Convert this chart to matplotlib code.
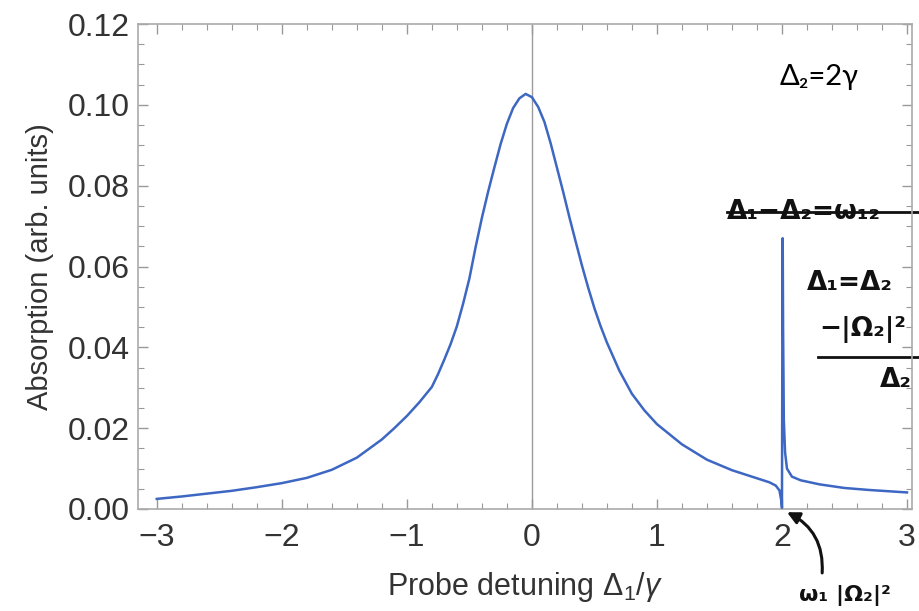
import numpy as np
import matplotlib; matplotlib.use('Agg')
import matplotlib.pyplot as plt
from matplotlib.ticker import MultipleLocator, FormatStrFormatter

plt.rcParams['font.family'] = ['Liberation Sans', 'DejaVu Sans']
plt.rcParams['mathtext.fontset'] = 'custom'
plt.rcParams['mathtext.rm'] = 'Liberation Sans'
plt.rcParams['mathtext.it'] = 'Liberation Sans:italic'

# probe detuning (units of gamma) and absorption
detuning = [-3.0, -2.8, -2.6, -2.4, -2.2, -2.0, -1.8, -1.6, -1.4, -1.2, -1.1, -1.0,
            -0.9, -0.8, -0.75, -0.7, -0.65, -0.6, -0.55, -0.5, -0.45, -0.4, -0.35,
            -0.3, -0.25, -0.2, -0.15, -0.1, -0.05, 0.0, 0.05, 0.1, 0.15, 0.2, 0.25,
            0.3, 0.35, 0.4, 0.45, 0.5, 0.55, 0.6, 0.7, 0.8, 0.9, 1.0, 1.2,
            1.4, 1.6, 1.8, 1.9, 1.95, 1.98, 1.995, 2.0, 2.003, 2.006, 2.009, 2.015,
            2.025, 2.04, 2.08, 2.15, 2.3, 2.5, 2.7, 2.9, 3.0]
absorption = [0.0025, 0.0031, 0.0038, 0.0045, 0.0054, 0.0064, 0.0077, 0.0097, 0.0127,
              0.0172, 0.0200, 0.0230, 0.0264, 0.0302, 0.0334, 0.0370, 0.0408, 0.0452,
              0.0508, 0.0570, 0.0648, 0.0720, 0.0785, 0.0845, 0.0903, 0.0953, 0.0992,
              0.1016, 0.1027, 0.1019, 0.0995, 0.0958, 0.0905, 0.0845, 0.0785, 0.0722,
              0.0662, 0.0603, 0.0548, 0.0497, 0.0452, 0.0412, 0.0342, 0.0285, 0.0244,
              0.0210, 0.0160, 0.0122, 0.0096, 0.0076, 0.0066, 0.0058, 0.0046, 0.0020,
              0.0003, 0.0400, 0.0670, 0.0450, 0.0220, 0.0140, 0.0100, 0.0080, 0.0071,
              0.0061, 0.0052, 0.0047, 0.0043, 0.0041]

x_ticks = [-3, -2, -1, 0, 1, 2, 3]
y_ticks = [0.00, 0.02, 0.04, 0.06, 0.08, 0.10, 0.12]

fig = plt.figure(figsize=(9.19, 6.11), dpi=100)
ax = fig.add_axes([138/919, 102/611, 774/919, 485/611])
ax.plot(detuning, absorption, color='#3d67c2', lw=1.8, zorder=3)
ax.axvline(0, color='#9a9a9a', lw=1.0, zorder=1)
ax.set_xlim(-3.15, 3.04); ax.set_ylim(0, 0.12)
ax.set_xticks(x_ticks); ax.set_yticks(y_ticks)
ax.xaxis.set_minor_locator(MultipleLocator(0.2)); ax.yaxis.set_minor_locator(MultipleLocator(0.005))
ax.yaxis.set_major_formatter(FormatStrFormatter('%.2f'))
ax.tick_params(which='both', direction='in', top=True, right=True, color='#999999', labelsize=23, labelcolor='#333333')
ax.tick_params(which='major', length=7, width=1); ax.tick_params(which='minor', length=4, width=0.8)
ax.tick_params(axis='x', pad=10); ax.tick_params(axis='y', pad=6)
for s in ax.spines.values(): s.set_color('#aaaaaa'); s.set_linewidth(1.2)
ax.set_xlabel(r'Probe detuning $\Delta_1/\gamma$', fontsize=22, color='#333333', labelpad=12)
ax.set_ylabel('Absorption (arb. units)', fontsize=21, color='#333333', labelpad=10)

ax.text(2.3, 0.107, 'Δ₂=2γ', fontsize=21, ha='center', va='center', family=['Lato', 'DejaVu Sans'])

# handwritten notes
hand = dict(color='#111111', fontsize=19, fontweight='bold', clip_on=False, family=['DejaVu Sans'])
ax.text(1.56, 0.0735, 'Δ₁−Δ₂=ω₁₂', va='center', ha='left', **hand)
ax.plot([1.56, 3.1], [0.0735, 0.0735], color='#111111', lw=2, clip_on=False)
ax.text(2.2, 0.056, 'Δ₁=Δ₂', va='center', ha='left', **hand)
ax.text(2.3, 0.0443, '−|Ω₂|²', va='center', ha='left', **hand)
ax.plot([2.29, 3.1], [0.0376, 0.0376], color='#111111', lw=2, clip_on=False)
ax.text(2.78, 0.032, 'Δ₂', va='center', ha='left', **hand)
ax.text(2.14, -0.0215, 'ω₁ |Ω₂|²', va='center', ha='left', **dict(hand, fontsize=16))
ax.annotate('', xy=(2.02, -0.0005), xytext=(2.32, -0.0165), annotation_clip=False,
            arrowprops=dict(arrowstyle='-|>', color='#111111', lw=2.2, connectionstyle='arc3,rad=0.35', mutation_scale=18))

fig.savefig('out.png', dpi=100)
